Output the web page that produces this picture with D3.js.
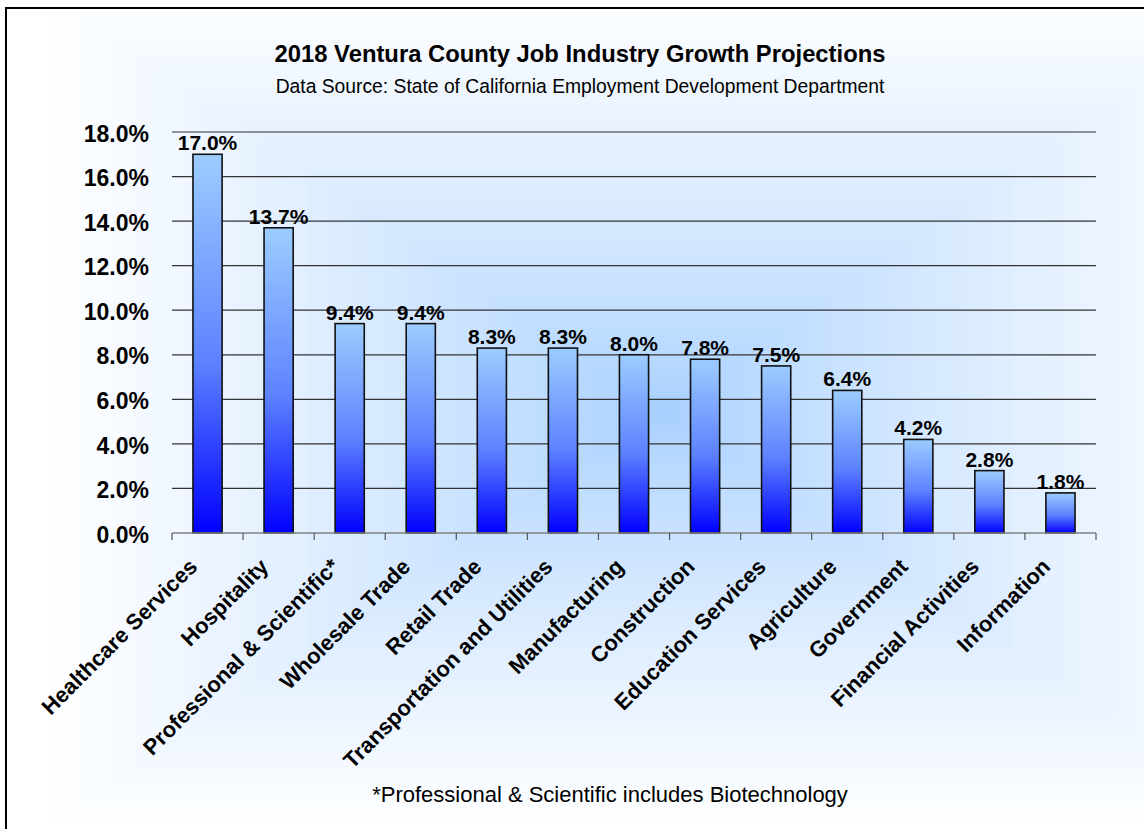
<!DOCTYPE html>
<html>
<head>
    <title>2018 Ventura County Job Industry Growth Projections</title>
    <script src="https://d3js.org/d3.v7.min.js"></script>
    <style>
        body {
            margin: 0;
            padding: 0;
            background: #fff;
            font-family: Arial, "Liberation Sans", sans-serif;
        }
        svg { display: block; }
    </style>
</head>
<body>
    <div id="chart"></div>
    <script>
        // Data
        const industries = [
            "Healthcare Services", "Hospitality", "Professional & Scientific*",
            "Wholesale Trade", "Retail Trade", "Transportation and Utilities",
            "Manufacturing", "Construction", "Education Services", "Agriculture",
            "Government", "Financial Activities", "Information"
        ];
        const growth = [17.0, 13.7, 9.4, 9.4, 8.3, 8.3, 8.0, 7.8, 7.5, 6.4, 4.2, 2.8, 1.8];
        const yTicks = [0, 2, 4, 6, 8, 10, 12, 14, 16, 18];

        const title = "2018 Ventura County Job Industry Growth Projections";
        const subtitle = "Data Source: State of California Employment Development Department";
        const footnote = "*Professional & Scientific includes Biotechnology";

        const width = 1144, height = 829;
        const plot = {left: 172, right: 1096, top: 132, bottom: 533};

        const svg = d3.select('#chart')
            .append('svg')
            .attr('width', width)
            .attr('height', height);

        const defs = svg.append('defs');

        // bar fill: light blue on top to pure blue at bottom
        const barGrad = defs.append('linearGradient')
            .attr('id', 'barGrad')
            .attr('x1', 0).attr('y1', 0)
            .attr('x2', 0).attr('y2', 1);
        barGrad.append('stop').attr('offset', '0%').attr('stop-color', '#9ccdff');
        barGrad.append('stop').attr('offset', '55%').attr('stop-color', '#5c82ff');
        barGrad.append('stop').attr('offset', '100%').attr('stop-color', '#0000ff');

        // chart area background, rectangular "from center" gradient like Excel
        const bg = svg.append('g');
        const cx = 660, cy = 410, hw = 620, hh = 420;
        const bgColor = d3.interpolateRgb('#a4ceff', '#ffffff');
        const steps = 60;
        for (let i = steps; i >= 1; i--) {
            const t = i / steps;
            bg.append('rect')
                .attr('x', cx - hw * t)
                .attr('y', cy - hh * t)
                .attr('width', hw * 2 * t)
                .attr('height', hh * 2 * t)
                .attr('fill', bgColor(Math.pow(t, 0.75)));
        }

        // outer frame (runs off the right and bottom of the picture)
        svg.append('rect')
            .attr('x', 6).attr('y', 8)
            .attr('width', 1160).attr('height', 840)
            .attr('fill', 'none')
            .attr('stroke', '#000')
            .attr('stroke-width', 2);

        const x = d3.scaleBand()
            .domain(industries)
            .range([plot.left, plot.right])
            .paddingInner(0.59)
            .paddingOuter(0.295);

        const y = d3.scaleLinear()
            .domain([0, 18])
            .range([plot.bottom, plot.top]);

        // gridlines
        svg.append('g')
            .selectAll('line')
            .data(yTicks.filter(d => d > 0))
            .join('line')
            .attr('x1', plot.left)
            .attr('x2', plot.right)
            .attr('y1', d => y(d))
            .attr('y2', d => y(d))
            .attr('stroke', '#333')
            .attr('stroke-width', 1.2);

        // y tick labels
        svg.append('g')
            .selectAll('text')
            .data(yTicks)
            .join('text')
            .attr('x', 149)
            .attr('y', d => y(d))
            .attr('dy', '0.42em')
            .attr('text-anchor', 'end')
            .style('font-size', '23px')
            .style('font-weight', 'bold')
            .text(d => d.toFixed(1) + '%');

        // bars
        svg.append('g')
            .selectAll('rect')
            .data(growth)
            .join('rect')
            .attr('x', (d, i) => x(industries[i]))
            .attr('width', x.bandwidth())
            .attr('y', d => y(d))
            .attr('height', d => y(0) - y(d))
            .attr('fill', 'url(#barGrad)')
            .attr('stroke', '#111')
            .attr('stroke-width', 1.6);

        // value labels
        svg.append('g')
            .selectAll('text')
            .data(growth)
            .join('text')
            .attr('x', (d, i) => x(industries[i]) + x.bandwidth() / 2)
            .attr('y', d => y(d) - 4)
            .attr('text-anchor', 'middle')
            .style('font-size', '21px')
            .style('font-weight', 'bold')
            .text(d => d.toFixed(1) + '%');

        // x axis line with ticks between categories
        const step = x.step();
        const axis = svg.append('g');
        axis.append('line')
            .attr('x1', plot.left).attr('x2', plot.right)
            .attr('y1', plot.bottom).attr('y2', plot.bottom)
            .attr('stroke', '#808080')
            .attr('stroke-width', 1.5);
        axis.selectAll('line.tick')
            .data(d3.range(industries.length + 1))
            .join('line')
            .attr('class', 'tick')
            .attr('x1', i => plot.left + i * step)
            .attr('x2', i => plot.left + i * step)
            .attr('y1', plot.bottom)
            .attr('y2', plot.bottom + 7)
            .attr('stroke', '#555')
            .attr('stroke-width', 1.2);

        // rotated category labels
        svg.append('g')
            .selectAll('text')
            .data(industries)
            .join('text')
            .attr('transform', d => `translate(${x(d) + x.bandwidth() / 2 - 9},${plot.bottom + 35}) rotate(-45)`)
            .attr('text-anchor', 'end')
            .style('font-size', '22px')
            .style('font-weight', 'bold')
            .text(d => d);

        // titles
        svg.append('text')
            .attr('x', 580).attr('y', 62)
            .attr('text-anchor', 'middle')
            .style('font-size', '23.8px')
            .style('font-weight', 'bold')
            .text(title);

        svg.append('text')
            .attr('x', 580).attr('y', 93)
            .attr('text-anchor', 'middle')
            .style('font-size', '19.3px')
            .text(subtitle);

        svg.append('text')
            .attr('x', 610).attr('y', 802)
            .attr('text-anchor', 'middle')
            .style('font-size', '22px')
            .text(footnote);
    </script>
</body>
</html>
